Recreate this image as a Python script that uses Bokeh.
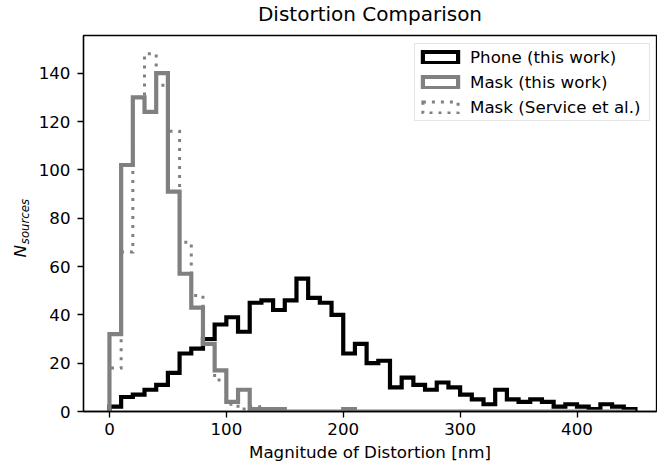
import math
from bokeh.plotting import figure
from bokeh.layouts import column, row
from bokeh.models import (Range1d, FixedTicker, Legend, LegendItem,
                          ColumnDataSource)
from bokeh.core.properties import value
from bokeh.embed import file_html
from bokeh.resources import INLINE

# ---------------- data ----------------
bin_edges = [0, 10, 20, 30, 40, 50, 60, 70, 80, 90, 100, 110, 120, 130, 140,
             150, 160, 170, 180, 190, 200, 210, 220, 230, 240, 250, 260, 270,
             280, 290, 300, 310, 320, 330, 340, 350, 360, 370, 380, 390, 400,
             410, 420, 430, 440, 450]

phone_counts = [2, 6, 7, 9, 11, 16, 24, 26, 30, 36, 39, 33, 45, 46, 42,
                46, 55, 47, 45, 40, 24, 28, 20, 21, 10, 14, 11, 9,
                12, 10, 7, 5, 3, 9, 5, 4, 5, 4, 2, 3, 2,
                1, 3, 2, 1]

mask_counts = [32, 102, 130, 124, 140, 91, 57, 43, 28, 17, 4, 9, 1, 1, 1,
               0, 0, 0, 0, 0, 1, 0, 0, 0, 0, 0, 0, 0,
               0, 0, 0, 0, 0, 0, 0, 0, 0, 0, 0, 0, 0,
               0, 0, 0, 0]

service_counts = [18, 66, 130, 148, 135, 116, 70, 48, 28, 13, 3, 1, 2, 1, 1,
                  0, 0, 0, 0, 0, 0, 0, 0, 0, 0, 0, 0, 0,
                  0, 0, 0, 0, 0, 0, 0, 0, 0, 0, 0, 0, 0,
                  0, 0, 0, 0]

series_labels = ["Phone (this work)", "Mask (this work)", "Mask (Service et al.)"]
x_ticks = [0, 100, 200, 300, 400]
y_ticks = [0, 20, 40, 60, 80, 100, 120, 140]

title_text = "Distortion Comparison"
x_label = "Magnitude of Distortion [nm]"
y_label_main = "N"
y_label_sub = "sources"

FONT = "DejaVu Sans"
TOTAL_W, TOTAL_H = 657, 465
TITLE_H = 34
YLAB_W = 34
Y_MAX = 155.6
X_MIN, X_MAX = -22.2, 468.0


def step_outline(edges, counts):
    xs, ys = [edges[0]], [0]
    for i, c in enumerate(counts):
        xs += [edges[i], edges[i + 1]]
        ys += [c, c]
    xs.append(edges[-1])
    ys.append(0)
    return xs, ys


def blank_figure(w, h, y0, y1):
    f = figure(width=w, height=h, x_range=Range1d(0, w), y_range=Range1d(y0, y1),
               output_backend="svg", toolbar_location=None,
               x_axis_type=None, y_axis_type=None, min_border=0)
    f.outline_line_color = None
    f.background_fill_color = "white"
    f.border_fill_color = "white"
    return f


# ---- title strip (pixel coordinates, y upward) ----
title_fig = blank_figure(TOTAL_W, TITLE_H, 0, TITLE_H)
title_fig.text(x=[369.5], y=[TITLE_H - 13.6], text=[title_text],
               text_font=value(FONT), text_font_size="20px",
               text_color="black", text_align="center",
               text_baseline="middle")

# ---- y label strip: its frame is aligned with the main frame, so it
# ---- uses the same vertical (count) scale as the histogram
main_h = TOTAL_H - TITLE_H
ylab_fig = blank_figure(YLAB_W, main_h, 0, Y_MAX)
ylab_fig.text(x=[19.5], y=[66.3], text=[y_label_main], angle=math.pi / 2,
              text_font=value(FONT), text_font_size="16.7px",
              text_font_style="italic", text_color="black",
              text_align="center", text_baseline="middle")
ylab_fig.text(x=[24.5], y=[78.6], text=[y_label_sub], angle=math.pi / 2,
              text_font=value(FONT), text_font_size="11.7px",
              text_font_style="italic", text_color="black",
              text_align="center", text_baseline="middle")

# ---- main histogram plot ----
p = figure(width=TOTAL_W - YLAB_W, height=main_h,
           x_range=Range1d(X_MIN, X_MAX), y_range=Range1d(0, Y_MAX),
           output_backend="svg", toolbar_location=None,
           min_border_left=83 - YLAB_W, min_border_right=1,
           min_border_top=1, min_border_bottom=54)

p.background_fill_color = "white"
p.border_fill_color = "white"
p.outline_line_color = "black"
p.outline_line_width = 1.33
p.grid.visible = False

for ax in (p.xaxis[0], p.yaxis[0]):
    ax.axis_line_color = "black"
    ax.axis_line_width = 1.33
    ax.major_tick_line_color = "black"
    ax.major_tick_line_width = 1.33
    ax.major_tick_out = 6
    ax.major_tick_in = 0
    ax.minor_tick_out = 0
    ax.minor_tick_in = 0
    ax.major_label_text_font = FONT
    ax.major_label_text_font_size = "16.7px"
    ax.major_label_text_color = "black"

p.xaxis.ticker = FixedTicker(ticks=x_ticks)
p.yaxis.ticker = FixedTicker(ticks=y_ticks)
p.xaxis.major_label_standoff = 5
p.yaxis.major_label_standoff = 7

p.xaxis.axis_label = x_label
p.xaxis.axis_label_text_font = FONT
p.xaxis.axis_label_text_font_size = "16.7px"
p.xaxis.axis_label_text_font_style = "normal"
p.xaxis.axis_label_text_color = "black"
p.xaxis.axis_label_standoff = 4

styles = [
    dict(color="black", width=4.2, dash="solid"),
    dict(color="#808080", width=4.2, dash="solid"),
    dict(color="#808080", width=3.0, dash="3 6"),
]

items = []
for counts, label, st in zip([phone_counts, mask_counts, service_counts],
                             series_labels, styles):
    xs, ys = step_outline(bin_edges, counts)
    p.line(xs, ys, line_color=st["color"], line_width=st["width"],
           line_dash=st["dash"], line_join="miter", line_cap="butt")
    src = ColumnDataSource(dict(left=bin_edges[:-1], right=bin_edges[1:],
                                top=counts, bottom=[0] * len(counts)))
    qr = p.quad(left="left", right="right", top="top", bottom="bottom",
                source=src, fill_alpha=0, line_color=st["color"],
                line_width=st["width"], line_dash=st["dash"],
                line_join="miter", visible=False)
    items.append(LegendItem(label=label, renderers=[qr]))

legend = Legend(items=items, location=(331, 290),
                glyph_width=44, glyph_height=14,
                label_standoff=8, label_width=176, label_height=20,
                spacing=5, padding=3, margin=0,
                border_line_color="#cccccc", border_line_width=1.3,
                background_fill_color="white", background_fill_alpha=0.8,
                inactive_fill_alpha=0.0,
                label_text_font=FONT, label_text_font_size="16.7px",
                label_text_color="black")
p.add_layout(legend)

layout = column(title_fig, row(ylab_fig, p, spacing=0), spacing=0)

open("out.html", "w").write(file_html(layout, INLINE))
